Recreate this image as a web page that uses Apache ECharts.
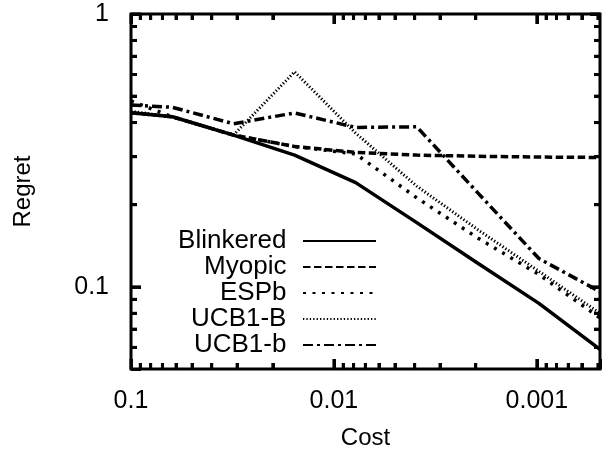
<!DOCTYPE html>
<html>
<head>
<meta charset="utf-8">
<script src="https://cdn.jsdelivr.net/npm/echarts@6/dist/echarts.min.js"></script>
<style>
html,body{margin:0;padding:0;background:#fff;}
#chart{width:614px;height:449px;}
</style>
</head>
<body>
<div id="chart"></div>
<script>
// Cost values (x, log scale, reversed); first point is at the left edge of the plot
var costs = [0.1, 1/16, 1/32, 1/64, 1/128, 1/256, 1/512, 1/1024, 1/2048];

// Regret values
var blinkered = [0.435, 0.420, 0.360, 0.304, 0.241, 0.172, 0.122, 0.087, 0.059];
var myopic    = [0.435, 0.420, 0.360, 0.327, 0.311, 0.304, 0.301, 0.299, 0.298];
var espb      = [0.480, 0.420, 0.360, 0.327, 0.307, 0.212, 0.151, 0.111, 0.077];
var ucb1B     = [0.440, 0.420, 0.360, 0.614, 0.366, 0.234, 0.162, 0.114, 0.080];
var ucb1b     = [0.464, 0.455, 0.396, 0.434, 0.384, 0.386, 0.221, 0.127, 0.096];

var seriesNames = ['Blinkered', 'Myopic', 'ESPb', 'UCB1-B', 'UCB1-b'];

// Axis ranges and tick positions
var xRange = [1/2048, 0.1];
var yRange = [0.05, 1];
var xMajorTicks = [0.1, 0.01, 0.001];
var xMinorTicks = [0.09,0.08,0.07,0.06,0.05,0.04,0.03,0.02,
                   0.009,0.008,0.007,0.006,0.005,0.004,0.003,0.002,
                   0.0009,0.0008,0.0007,0.0006,0.0005];
var yMajorTicks = [1, 0.1];
var yMinorTicks = [0.9,0.8,0.7,0.6,0.5,0.4,0.3,0.2,0.09,0.08,0.07,0.06];

var FONT = 'Liberation Sans, Arial, Helvetica, sans-serif';
var MAJOR_LEN = 10, MINOR_LEN = 6, TICK_W = 3, TICK_C = '#050505';
var lg = function (v) { return Math.log10(v); };
var GRID = { left: 131, right: 14, top: 14, bottom: 80 };

function pairs(ys) { return costs.map(function (c, i) { return [c, ys[i]]; }); }

function powLabel(v) {
  var l = Math.log10(v);
  if (Math.abs(l - Math.round(l)) > 1e-6) return '';
  return String(+Number(v).toPrecision(1));
}

// overlay tick axes (values in log10 space of the data axes)
function tickAxis(grid, pos, range, vals, len, inverse) {
  return {
    type: 'value', gridIndex: grid, position: pos,
    min: lg(range[0]), max: lg(range[1]), inverse: !!inverse,
    axisLine: { show: false, onZero: false },
    axisLabel: { show: false },
    splitLine: { show: false },
    axisTick: { show: true, inside: true, length: len,
      customValues: vals.map(lg),
      lineStyle: { color: TICK_C, width: TICK_W } }
  };
}

// tick marks drawn through the data axes: [xValue, yValue, side(0 bottom,1 top,2 left,3 right), length]
var tickData = [];
function addX(list, len) { list.forEach(function (t) { tickData.push([t, 0.5, 0, len]); tickData.push([t, 0.5, 1, len]); }); }
function addY(list, len) { list.forEach(function (t) { tickData.push([0.01, t, 2, len]); tickData.push([0.01, t, 3, len]); }); }
addX(xMajorTicks, MAJOR_LEN); addX(xMinorTicks, MINOR_LEN);
addY(yMajorTicks, MAJOR_LEN); addY(yMinorTicks, MINOR_LEN);

function renderTick(params, api) {
  var cs = params.coordSys;
  var p = api.coord([api.value(0), api.value(1)]);
  var side = api.value(2), len = api.value(3);
  var s;
  if (side === 0) s = { x1: p[0], y1: cs.y + cs.height, x2: p[0], y2: cs.y + cs.height - len };
  else if (side === 1) s = { x1: p[0], y1: cs.y, x2: p[0], y2: cs.y + len };
  else if (side === 2) s = { x1: cs.x, y1: p[1], x2: cs.x + len, y2: p[1] };
  else s = { x1: cs.x + cs.width, y1: p[1], x2: cs.x + cs.width - len, y2: p[1] };
  return { type: 'line', shape: s, style: { stroke: TICK_C, lineWidth: TICK_W } };
}

var styles = [
  { type: 'solid', width: 3.5 },
  { type: [7.5, 3.5], width: 3.5 },
  { type: [3, 6.5], width: 3.5 },
  { type: [1.3, 2.1], width: 3 },
  { type: [10, 4, 3, 4], width: 3.5 }
];
var datasets = [blinkered, myopic, espb, ucb1B, ucb1b];

var lineSeries = datasets.map(function (d, i) {
  return {
    name: seriesNames[i], type: 'line', xAxisIndex: 0, yAxisIndex: 0,
    data: pairs(d), symbol: 'none',
    lineStyle: { color: '#000', width: styles[i].width, type: styles[i].type, cap: 'butt' },
    itemStyle: { color: '#000' }
  };
});

function gridOpt(show) {
  return { left: GRID.left, right: GRID.right, top: GRID.top, bottom: GRID.bottom,
    show: show, borderColor: '#000', borderWidth: 3, containLabel: false,
    outerBoundsMode: 'none' };
}

var chart = echarts.init(document.getElementById('chart'));
chart.setOption({
  animation: false,
  grid: [gridOpt(true), gridOpt(false)],
  legend: {
    orient: 'vertical', align: 'right', right: 237, top: 228, padding: 0,
    itemGap: 0, itemWidth: 73, itemHeight: 14,
    data: seriesNames,
    itemStyle: { color: 'rgba(0,0,0,0)', borderColor: 'rgba(0,0,0,0)', borderWidth: 0 },
    formatter: function (n) { return n + ' \u2006'; },
    textStyle: { fontFamily: FONT, fontSize: 26, color: '#000', lineHeight: 25 }
  },
  xAxis: [
    { type: 'log', gridIndex: 0, position: 'bottom', min: xRange[0], max: xRange[1], inverse: true,
      name: 'Cost', nameLocation: 'middle', nameGap: 57,
      nameTextStyle: { fontFamily: FONT, fontSize: 24, color: '#000' },
      axisLine: { show: false, onZero: false },
      axisTick: { show: true, inside: true, length: MAJOR_LEN, lineStyle: { color: TICK_C, width: TICK_W } },
      splitLine: { show: false },
      axisLabel: { margin: 20, fontFamily: FONT, fontSize: 25, color: '#000', formatter: powLabel }
    },
    tickAxis(0, 'top', xRange, xMajorTicks, MAJOR_LEN, true),
    tickAxis(1, 'bottom', xRange, xMinorTicks, MINOR_LEN, true),
    tickAxis(1, 'top', xRange, xMinorTicks, MINOR_LEN, true)
  ],
  yAxis: [
    { type: 'log', gridIndex: 0, position: 'left', min: yRange[0], max: yRange[1],
      name: 'Regret', nameLocation: 'middle', nameGap: 96,
      nameTextStyle: { fontFamily: FONT, fontSize: 24, color: '#000' },
      axisLine: { show: false, onZero: false },
      axisTick: { show: true, inside: true, length: MAJOR_LEN, lineStyle: { color: TICK_C, width: TICK_W } },
      splitLine: { show: false },
      axisLabel: { margin: 22, fontFamily: FONT, fontSize: 25, color: '#000', formatter: powLabel }
    },
    tickAxis(0, 'right', yRange, yMajorTicks, MAJOR_LEN, false),
    tickAxis(1, 'left', yRange, yMinorTicks, MINOR_LEN, false),
    tickAxis(1, 'right', yRange, yMinorTicks, MINOR_LEN, false)
  ],
  series: lineSeries.concat([{
    name: 'ticks', type: 'custom', xAxisIndex: 0, yAxisIndex: 0,
    data: tickData, renderItem: renderTick, encode: { x: 0, y: 1 }
  }])
});
</script>
</body>
</html>
